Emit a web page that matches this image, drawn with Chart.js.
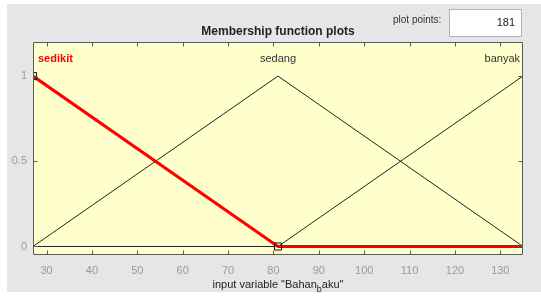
<!DOCTYPE html>
<html>
<head>
<meta charset="utf-8">
<script src="https://cdn.jsdelivr.net/npm/chart.js@4.4.1/dist/chart.umd.min.js"></script>
<style>
  html,body{margin:0;padding:0;background:#fff;}
  body{width:541px;height:300px;position:relative;overflow:hidden;font-family:"Liberation Sans",Arial,sans-serif;}
  #panel{position:absolute;left:7px;top:4px;width:534px;height:288px;background:#e6e6e6;}
  #wrap{position:absolute;left:0;top:0;width:541px;height:300px;}
  #title{position:absolute;left:0;width:556px;top:24px;text-align:center;font-weight:bold;font-size:12px;color:#222;}
  #pplabel{position:absolute;left:393px;top:14px;font-size:10px;color:#333;}
  #ppbox{position:absolute;left:449px;top:9px;width:71px;height:26px;background:#fff;border:1px solid #b4b4b4;box-sizing:content-box;}
  #ppval{position:absolute;right:6px;top:6px;font-size:11px;color:#222;}
  #xtitle{position:absolute;left:0;width:556px;top:278px;text-align:center;font-size:11px;color:#222;}
  #xtitle sub{font-size:9px;vertical-align:-4px;line-height:0;}
</style>
</head>
<body>
<div id="panel"></div>
<div id="wrap"><canvas id="c" width="541" height="300"></canvas></div>
<div id="title">Membership function plots</div>
<div id="pplabel">plot points:</div>
<div id="ppbox"><span id="ppval">181</span></div>
<div id="xtitle">input variable "Bahan<sub>b</sub>aku"</div>
<script>
// ---- data ----
const xPoints = [27, 81, 135];
const sedikitY = [1, 0, 0];
const sedangY = [0, 1, 0];
const banyakY = [0, 0, 1];
const mfNames = ["sedikit", "sedang", "banyak"];
const mfPeaks = [27, 81, 135];
const selectedVertexX = [27, 81];
const selectedVertexY = [1, 0];
const xTickValues = [30, 40, 50, 60, 70, 80, 90, 100, 110, 120, 130];
const yTickValues = [0, 0.5, 1];
const xMin = 27, xMax = 135, yMin = -0.05, yMax = 1.2;

const toPts = (xs, ys) => xs.map((x, i) => ({x: x, y: ys[i]}));

const plotBg = {
  id: 'plotBg',
  beforeDraw(chart) {
    const {ctx, chartArea: a} = chart;
    ctx.save();
    ctx.fillStyle = '#ffffcc';
    ctx.fillRect(a.left, a.top, a.right - a.left, a.bottom - a.top);
    ctx.restore();
  },
  afterDraw(chart) {
    const {ctx, chartArea: a, scales} = chart;
    ctx.save();
    ctx.strokeStyle = '#5a5a5a';
    ctx.lineWidth = 1;
    ctx.beginPath();
    const L = Math.round(a.left) + 0.5, R = Math.round(a.right) - 0.5;
    const T = Math.round(a.top) + 0.5, B = Math.round(a.bottom) - 0.5;
    ctx.rect(L, T, R - L, B - T);
    // x ticks (inward, top and bottom)
    scales.x.ticks.forEach(t => {
      const px = Math.round(scales.x.getPixelForValue(t.value)) + 0.5;
      ctx.moveTo(px, B); ctx.lineTo(px, B - 4);
      ctx.moveTo(px, T); ctx.lineTo(px, T + 4);
    });
    scales.y.ticks.forEach(t => {
      const py = Math.round(scales.y.getPixelForValue(t.value)) + 0.5;
      ctx.moveTo(L, py); ctx.lineTo(L + 4, py);
      ctx.moveTo(R, py); ctx.lineTo(R - 4, py);
    });
    ctx.stroke();
    // MF labels
    const ly = scales.y.getPixelForValue(1.1);
    ctx.textBaseline = 'middle';
    mfNames.forEach((name, i) => {
      const px = scales.x.getPixelForValue(mfPeaks[i]);
      if (i === 0) {
        ctx.font = 'bold 11px "Liberation Sans", Arial, sans-serif';
        ctx.fillStyle = '#ff0000';
        ctx.textAlign = 'left';
        ctx.fillText(name, px + 5, ly);
      } else {
        ctx.font = '11px "Liberation Sans", Arial, sans-serif';
        ctx.fillStyle = '#333';
        ctx.textAlign = i === 1 ? 'center' : 'right';
        ctx.fillText(name, i === 1 ? px : px - 3, ly);
      }
    });
    ctx.restore();
  }
};

new Chart(document.getElementById('c'), {
  type: 'line',
  data: {
    datasets: [
      {
        label: 'vertices',
        data: toPts(selectedVertexX, selectedVertexY),
        showLine: false,
        pointStyle: 'rect',
        pointRadius: 5,
        pointBorderColor: '#111',
        pointBackgroundColor: 'rgba(0,0,0,0)',
        pointBorderWidth: 1
      },
      {
        label: mfNames[0],
        data: toPts(xPoints, sedikitY),
        borderColor: '#ff0000',
        borderWidth: 3,
        pointRadius: 0,
        tension: 0
      },
      {
        label: mfNames[1],
        data: toPts(xPoints, sedangY),
        borderColor: '#222',
        borderWidth: 1,
        pointRadius: 0,
        tension: 0
      },
      {
        label: mfNames[2],
        data: toPts(xPoints, banyakY),
        borderColor: '#222',
        borderWidth: 1,
        pointRadius: 0,
        tension: 0
      }
    ]
  },
  options: {
    responsive: false,
    animation: false,
    events: [],
    layout: {padding: {left: 0, right: 18, top: 42, bottom: 0}},
    plugins: {legend: {display: false}, tooltip: {enabled: false}, title: {display: false}},
    scales: {
      x: {
        type: 'linear',
        min: xMin, max: xMax,
        afterBuildTicks: s => { s.ticks = xTickValues.map(v => ({value: v})); },
        afterFit: s => { s.height = 45; },
        grid: {display: false, drawTicks: false},
        border: {display: false},
        ticks: {
          padding: 9,
          color: '#9a9a9a',
          font: {family: '"Liberation Sans", Arial, sans-serif', size: 11},
          maxRotation: 0,
          autoSkip: false,
          callback: v => String(v)
        }
      },
      y: {
        type: 'linear',
        min: yMin, max: yMax,
        afterBuildTicks: s => { s.ticks = yTickValues.map(v => ({value: v})); },
        afterFit: s => { s.width = 33; },
        grid: {display: false, drawTicks: false},
        border: {display: false},
        ticks: {
          padding: 6,
          color: '#9a9a9a',
          font: {family: '"Liberation Sans", Arial, sans-serif', size: 11},
          callback: v => String(v)
        }
      }
    }
  },
  plugins: [plotBg]
});
</script>
</body>
</html>
